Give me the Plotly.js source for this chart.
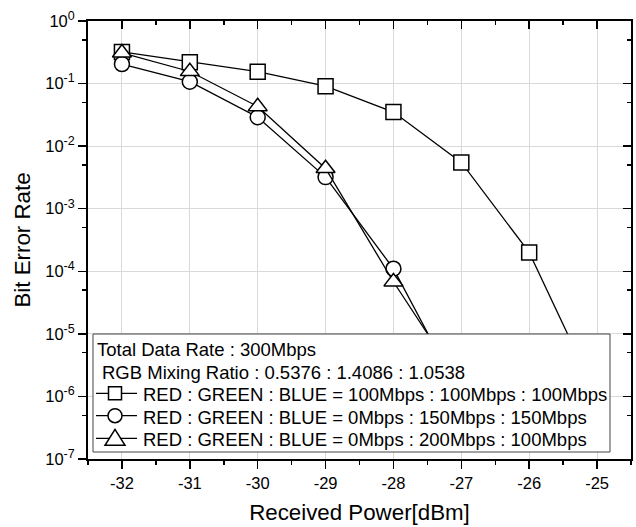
<!DOCTYPE html>
<html>
<head>
<meta charset="utf-8">
<script src="https://cdn.plot.ly/plotly-3.0.1.min.js"></script>
<style>html,body{margin:0;padding:0;background:#fff;}#chart{width:636px;height:527px;}</style>
</head>
<body>
<div id="chart"></div>
<script>
// Received power [dBm]
const power = [-32, -31, -30, -29, -28, -27, -26, -25];
// Bit error rates
const berSquare   = [0.32, 0.22, 0.155, 0.091, 0.035, 0.0055, 2.0e-4, 1.0e-6];
const berCircle   = [0.205, 0.107, 0.029, 0.0032, 1.1e-4, 1.0e-6];
const berTriangle = [0.31, 0.156, 0.043, 0.0044, 6.8e-5, 1.5e-6];
const seriesNames = [
  'RED : GREEN : BLUE = 100Mbps : 100Mbps : 100Mbps',
  'RED : GREEN : BLUE = 0Mbps : 150Mbps : 150Mbps',
  'RED : GREEN : BLUE = 0Mbps : 200Mbps : 100Mbps'
];
const legendHeader = ['Total Data Rate : 300Mbps', 'RGB Mixing Ratio : 0.5376 : 1.4086 : 1.0538'];
const yTickVals = [1e-7, 1e-6, 1e-5, 1e-4, 1e-3, 1e-2, 1e-1, 1];
const yExponents = ['-7', '-6', '-5', '-4', '-3', '-2', '-1', '0'];
const yMinorVals = [5e-7, 5e-6, 5e-5, 5e-4, 5e-3, 5e-2, 5e-1];
const xTickVals = [-32, -31, -30, -29, -28, -27, -26, -25];
const xTickText = ['-32', '-31', '-30', '-29', '-28', '-27', '-26', '-25'];

const FONT = 'Arial, "Liberation Sans", sans-serif';
const W = 636, H = 527, ML = 88, MR = 5, MT = 21, MB = 68;
const PW = W - ML - MR, PH = H - MT - MB;
const X = px => (px - ML) / PW;          // pixel -> paper x
const Y = py => (H - MB - py) / PH;      // pixel -> paper y

function mk(sym, size) {
  return {symbol: sym, size: size, color: '#ffffff', line: {color: '#000', width: 1.5}};
}
const traces = [
  {x: power, y: berSquare, name: seriesNames[0], mode: 'lines+markers', showlegend: false,
   line: {color: '#000', width: 1.3}, marker: mk('square', 15)},
  {x: power.slice(0, berCircle.length), y: berCircle, name: seriesNames[1], mode: 'lines+markers', showlegend: false,
   line: {color: '#000', width: 1.3}, marker: mk('circle', 15)},
  {x: power.slice(0, berTriangle.length), y: berTriangle, name: seriesNames[2], mode: 'lines+markers', showlegend: false,
   line: {color: '#000', width: 1.3}, marker: mk('triangle-up', 16.5)},
  {x: [], y: [], xaxis: 'x2', yaxis: 'y2', showlegend: false, hoverinfo: 'skip'}
];

// ---- custom legend box (text + glyphs) ----
const shapes = [];
const annotations = [];
shapes.push({type: 'rect', xref: 'paper', yref: 'paper', layer: 'above',
  x0: X(93), x1: X(610), y0: Y(452), y1: Y(334),
  fillcolor: '#fff', line: {color: '#444', width: 1}});
const rowY = [348, 370.5, 393.3, 415.7, 438.3];
const rowTextX = [95.5, 100.5, 142];
const allRows = legendHeader.concat(seriesNames);
allRows.forEach((t, i) => {
  annotations.push({xref: 'paper', yref: 'paper', x: X(i < 2 ? rowTextX[i] : rowTextX[2]), y: Y(rowY[i] + 1.5),
    xanchor: 'left', yanchor: 'middle', showarrow: false, text: t, borderpad: 0,
    font: {family: FONT, size: 18.5, color: '#000'}});
});
const gl = {color: '#000', width: 1.3};
const gm = {color: '#000', width: 1.5};
const gx = 115;
[2, 3, 4].forEach(i => {
  shapes.push({type: 'line', xref: 'paper', yref: 'paper', layer: 'above',
    x0: X(96), x1: X(137), y0: Y(rowY[i]), y1: Y(rowY[i]), line: gl});
});
// square glyph
shapes.push({type: 'rect', xref: 'paper', yref: 'paper', layer: 'above', fillcolor: '#fff', line: gm,
  x0: X(gx - 6.5), x1: X(gx + 6.5), y0: Y(rowY[2] + 6.5), y1: Y(rowY[2] - 6.5)});
// circle glyph
shapes.push({type: 'circle', xref: 'paper', yref: 'paper', layer: 'above', fillcolor: '#fff', line: gm,
  x0: X(gx - 7), x1: X(gx + 7), y0: Y(rowY[3] + 7), y1: Y(rowY[3] - 7)});
// triangle glyph
(function () {
  const cy = rowY[4], top = cy - 9, bot = cy + 7, hw = 10;
  const p = 'M' + X(gx - hw) + ',' + Y(bot) + ' L' + X(gx + hw) + ',' + Y(bot) + ' L' + X(gx) + ',' + Y(top) + ' Z';
  shapes.push({type: 'path', xref: 'paper', yref: 'paper', layer: 'above', fillcolor: '#fff', line: gm, path: p});
})();

const tickLen = 8, minorLen = 4;
const layout = {
  width: W, height: H,
  margin: {l: ML, r: MR, t: MT, b: MB},
  paper_bgcolor: '#fff', plot_bgcolor: '#fff',
  font: {family: FONT, color: '#000', size: 16},
  showlegend: false,
  shapes: shapes,
  annotations: annotations,
  xaxis: {
    range: [-32.5, -24.5], tickvals: xTickVals, ticktext: xTickText,
    ticks: 'outside', ticklen: tickLen, tickwidth: 1.5, tickcolor: '#000',
    minor: {dtick: 0.5, ticks: 'outside', ticklen: minorLen, tickwidth: 1.5, tickcolor: '#000', showgrid: false},
    showline: true, linecolor: '#000', linewidth: 2,
    showgrid: true, gridcolor: '#d9d9d9', gridwidth: 1, zeroline: false,
    tickfont: {size: 16.5},
    title: {text: 'Received Power[dBm]', font: {size: 22.3}, standoff: 14}
  },
  yaxis: {
    type: 'log', range: [-7, 0], tickvals: yTickVals,
    ticktext: yExponents.map(e => '10<sup><span style="font-size:12.5px">' + e + '</span></sup>'),
    ticks: 'outside', ticklen: tickLen, tickwidth: 1.5, tickcolor: '#000',
    minor: {tickvals: yMinorVals, ticks: 'outside', ticklen: minorLen, tickwidth: 1.5, tickcolor: '#000', showgrid: false},
    showline: true, linecolor: '#000', linewidth: 2,
    showgrid: true, gridcolor: '#d9d9d9', gridwidth: 1, zeroline: false,
    tickfont: {size: 16.5},
    title: {text: 'Bit Error Rate', font: {size: 22.3}, standoff: 8}
  },
  xaxis2: {
    overlaying: 'x', side: 'top', anchor: 'y2', range: [-32.5, -24.5], tickvals: xTickVals,
    ticks: 'inside', ticklen: tickLen, tickwidth: 1.5, tickcolor: '#000',
    minor: {dtick: 0.5, ticks: 'inside', ticklen: minorLen, tickwidth: 1.5, tickcolor: '#000', showgrid: false},
    showline: true, linecolor: '#000', linewidth: 2, showgrid: false, zeroline: false, showticklabels: false
  },
  yaxis2: {
    overlaying: 'y', side: 'right', anchor: 'x2', type: 'log', range: [-7, 0], tickvals: yTickVals,
    ticks: 'inside', ticklen: tickLen, tickwidth: 1.5, tickcolor: '#000',
    minor: {tickvals: yMinorVals, ticks: 'inside', ticklen: minorLen, tickwidth: 1.5, tickcolor: '#000', showgrid: false},
    showline: true, linecolor: '#000', linewidth: 2, showgrid: false, zeroline: false, showticklabels: false
  }
};

Plotly.newPlot('chart', traces, layout, {staticPlot: true, displayModeBar: false});
</script>
</body>
</html>
